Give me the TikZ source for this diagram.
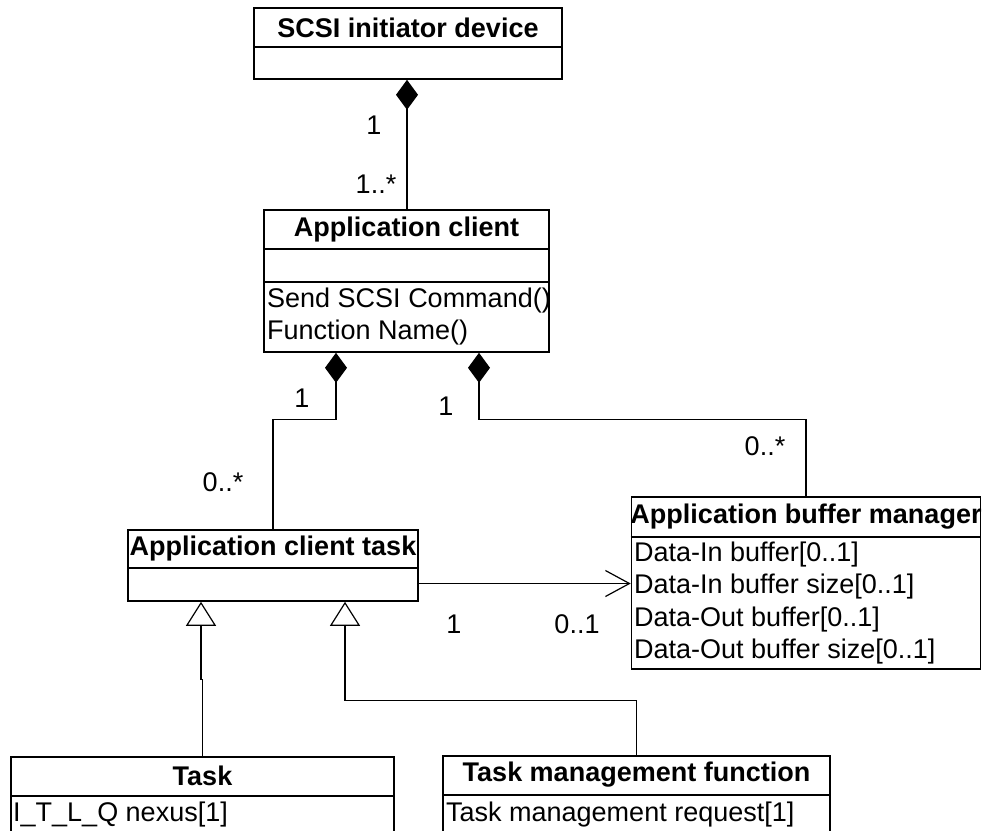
\documentclass[tikz,border=0pt]{standalone}
\usepackage{fontspec}
\setmainfont{Liberation Sans}
\usetikzlibrary{arrows.meta}

\tikzset{
  classbox/.style={draw, line width=1.6pt, inner sep=0pt},
  divider/.style={line width=1.6pt},
  hdr/.style={font=\bfseries\fontsize{27}{32}\selectfont, inner sep=0pt},
  attr/.style={font=\fontsize{27}{32}\selectfont, inner sep=0pt, anchor=west},
  mult/.style={font=\fontsize{27}{32}\selectfont, inner sep=0pt},
  conn/.style={line width=1.2pt},
  comp/.style={conn, {Diamond[length=30pt,width=22pt]}-},
  gen/.style={conn, {Triangle[open,length=24pt,width=30pt]}-},
  nav/.style={conn, -{Straight Barb[length=24pt,width=26pt]}},
}

\begin{document}
\begin{tikzpicture}[x=1pt, y=-1pt]
\useasboundingbox (0,0) rectangle (982,830);
\begin{scope}
\clip (0,0) rectangle (982,830);

% SCSI initiator device
\node[classbox, minimum width=308pt, minimum height=71pt] (sid) at (408,43.5) {};
\draw[divider] (sid.west |- 0,47) -- (sid.east |- 0,47);
\node[hdr] (sidh) at (408,27.5) {SCSI initiator device};

% Application client
\node[classbox, minimum width=285pt, minimum height=142pt] (ac) at (406.5,281) {};
\draw[divider] (ac.west |- 0,249) -- (ac.east |- 0,249);
\draw[divider] (ac.west |- 0,282) -- (ac.east |- 0,282);
\node[hdr] (ach) at (406.5,229.5) {Application client};
\node[attr] (aca1) at (267,301) {Send SCSI Command()};
\node[attr] (aca2) at (267,333) {Function Name()};

% Application client task
\node[classbox, minimum width=290pt, minimum height=71pt] (act) at (273,565.5) {};
\draw[divider] (act.west |- 0,568) -- (act.east |- 0,568);
\node[hdr] (acth) at (273,549) {Application client task};

% Application buffer manager
\node[classbox, minimum width=349pt, minimum height=172pt] (abm) at (806,583) {};
\draw[divider] (abm.west |- 0,537) -- (abm.east |- 0,537);
\node[hdr] (abmh) at (806,517) {Application buffer manager};
\node[attr] (abm1) at (634,555) {Data-In buffer[0..1]};
\node[attr] (abm2) at (634,587) {Data-In buffer size[0..1]};
\node[attr] (abm3) at (634,620) {Data-Out buffer[0..1]};
\node[attr] (abm4) at (634,652) {Data-Out buffer size[0..1]};

% Task
\node[classbox, minimum width=383pt, minimum height=110pt] (task) at (202.5,812) {};
\draw[divider] (task.west |- 0,796) -- (task.east |- 0,796);
\node[hdr] (taskh) at (202.5,776) {Task};
\node[attr] (task1) at (13,815) {I\_T\_L\_Q nexus[1]};

% Task management function
\node[classbox, minimum width=387pt, minimum height=110pt] (tmf) at (636.5,811) {};
\draw[divider] (tmf.west |- 0,795) -- (tmf.east |- 0,795);
\node[hdr] (tmfh) at (636.5,775) {Task management function};
\node[attr] (tmf1) at (446,815) {Task management request[1]};

% Compositions
\draw[comp] (sid.south -| 407,0) -- (ac.north -| 407,0);
\draw[comp] ([xshift=-70.5pt]ac.south) -- ++(0,67) -| (act.north);
\draw[comp] ([xshift=72.5pt]ac.south) -- ++(0,67) -| (abm.north);

% Navigable association
\draw[nav] ([yshift=-18pt]act.east) -- ([yshift=-18pt]act.east -| abm.west);

% Generalizations
\draw[gen] ([xshift=-72pt]act.south) -- ++(0,78) -| (task.north);
\draw[gen] ([xshift=72pt]act.south) -- ++(0,99) -| (tmf.north);

% Multiplicities
\node[mult] (m1) at (374,125) {1};
\node[mult] (m2) at (376,184) {1..*};
\node[mult] (m3) at (302,398) {1};
\node[mult] (m4) at (223,482) {0..*};
\node[mult] (m5) at (446,406) {1};
\node[mult] (m6) at (765,446) {0..*};
\node[mult] (m7) at (454,624) {1};
\node[mult] (m8) at (577,624) {0..1};
\end{scope}
\end{tikzpicture}
\end{document}
